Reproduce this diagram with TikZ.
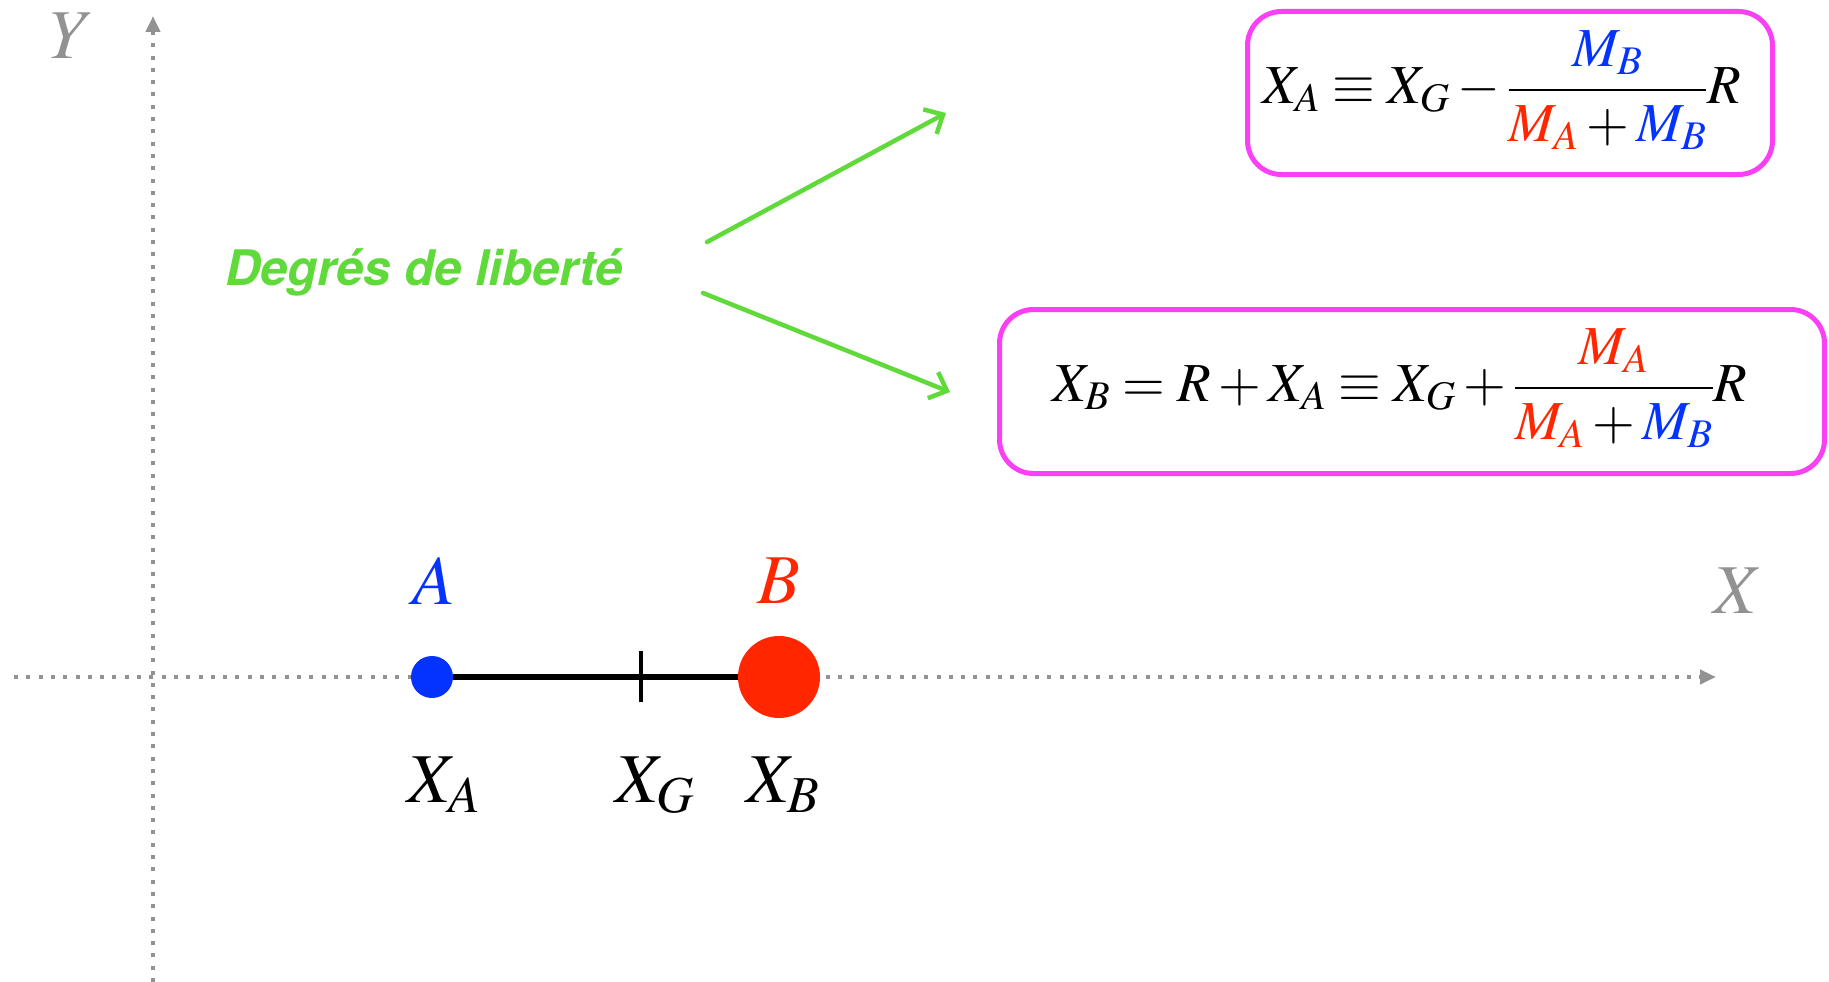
\documentclass[tikz,border=0pt]{standalone}
\usepackage{mathptmx}
\usepackage{fontspec}
\newfontfamily\helv{TeX Gyre Heros}
\usetikzlibrary{arrows.meta}
\definecolor{cgreen}{RGB}{96,218,58}
\definecolor{cmag}{RGB}{250,64,245}
\definecolor{cblue}{RGB}{4,51,255}
\definecolor{cred}{RGB}{255,38,0}
\definecolor{cgray}{RGB}{146,146,146}
\tikzset{
  axis/.style={cgray, line width=4pt, dash pattern=on 4pt off 8.3pt, -{Triangle[length=16pt,width=14pt]}},
  eqbox/.style={draw=cmag, line width=5pt, rounded corners=34pt, inner sep=0pt},
  chalk/.style={cgreen, line width=4.5pt, line cap=round, -{Straight Barb[length=15pt,width=28pt]}},
  biglbl/.style={font=\fontsize{70}{80}\selectfont, inner sep=0pt},
  eqlbl/.style={font=\fontsize{55}{64}\selectfont, inner sep=0pt},
}
\begin{document}
\begin{tikzpicture}[x=1pt,y=-1pt]
\useasboundingbox (0,0) rectangle (1829,982);
% axes
\coordinate (xs) at (14,677);
\coordinate (xe) at (1716,677);
\coordinate (ys) at (153,982);
\coordinate (ye) at (153,16);
\draw[axis] (xs) -- (xe);
\draw[axis] (ys) -- (ye);
\node[biglbl, text=cgray] (Xlbl) at (1738,591) {$X$};
\node[biglbl, text=cgray] (Ylbl) at (72,36) {$Y$};
% bar and masses
\node[circle, fill=cblue, minimum size=42pt, inner sep=0pt] (dotA) at (432,677) {};
\node[circle, fill=cred, minimum size=82pt, inner sep=0pt] (dotB) at (779,677) {};
\draw[line width=6pt] (dotA) -- (dotB);
\coordinate (Gt) at (641,651);
\coordinate (Gb) at (641,702);
\draw[line width=3.5pt] (Gt) -- (Gb);
\node[biglbl, text=cblue] (lA) at (434,581) {$A$};
\node[biglbl, text=cred] (lB) at (779,581) {$B$};
\node[biglbl, anchor=base west] (lXA) at (407,802) {$X_A$};
\node[biglbl, anchor=base west] (lXG) at (615,802) {$X_G$};
\node[biglbl, anchor=base west] (lXB) at (746,802) {$X_B$};
% degrees of freedom
\node[text=cgreen, font=\helv\bfseries\itshape\fontsize{49}{58}\selectfont, inner sep=0pt] (ddl) at (424,272) {Degrés de liberté};
\coordinate (a1s) at (707,242);
\coordinate (a1e) at (946,113);
\coordinate (a2s) at (703,293);
\coordinate (a2e) at (950,392);
\draw[chalk] (a1s) -- (a1e);
\draw[chalk] (a2s) -- (a2e);
% boxes
\node[eqbox, minimum width=525pt, minimum height=163pt] (box1) at (1510,93) {};
\node[eqbox, minimum width=825pt, minimum height=164pt] (box2) at (1412,391.5) {};
\node[eqlbl] (eq1) at (1502,90) {$\displaystyle X_A \equiv X_G - \frac{\color{cblue}M_B}{{\color{cred}M_A} + {\color{cblue}M_B}}R$};
\node[eqlbl] (eq2) at (1400,388) {$\displaystyle X_B = R + X_A \equiv X_G + \frac{\color{cred}M_A}{{\color{cred}M_A} + {\color{cblue}M_B}}R$};
\end{tikzpicture}
\end{document}
